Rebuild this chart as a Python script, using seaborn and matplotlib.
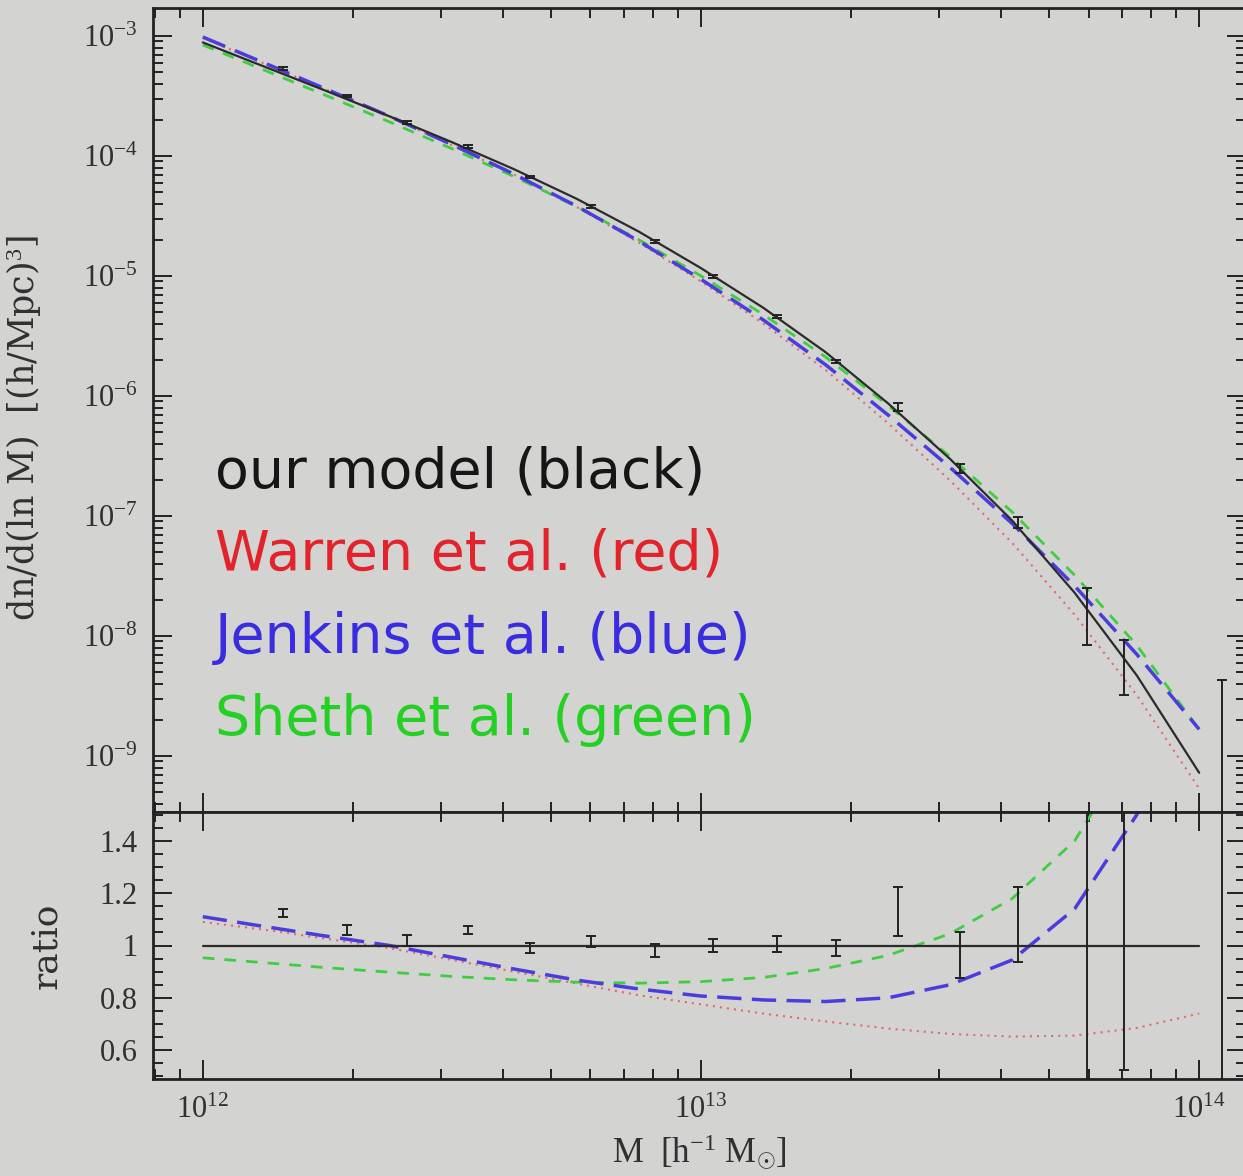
import numpy as np
import pandas as pd
import matplotlib
matplotlib.use("Agg")
import matplotlib.pyplot as plt
from matplotlib.ticker import LogLocator, NullFormatter, FuncFormatter, FixedLocator
import seaborn as sns

# mass grid for the model curves, log10(M / h^-1 Msun)
log_mass = [12.0, 12.125, 12.25, 12.375, 12.5, 12.625, 12.75, 12.875, 13.0,
            13.125, 13.25, 13.375, 13.5, 13.625, 13.75, 13.875, 14.0]
# our model (black), log10 of dn/dlnM
ours_log_n = [-3.054, -3.258, -3.462, -3.670, -3.885, -4.111, -4.356, -4.63, -4.935,
              -5.265, -5.635, -6.06, -6.525, -7.04, -7.64, -8.33, -9.14]
# other fits divided by our model (lower panel)
warren_ratio = [1.09, 1.06, 1.025, 0.99, 0.945, 0.90, 0.855, 0.81, 0.775,
                0.74, 0.71, 0.683, 0.662, 0.652, 0.656, 0.685, 0.74]
jenkins_ratio = [1.11, 1.072, 1.035, 1.0, 0.955, 0.91, 0.868, 0.834, 0.807,
                 0.792, 0.786, 0.80, 0.85, 0.945, 1.14, 1.50, 2.30]
sheth_ratio = [0.953, 0.934, 0.915, 0.898, 0.882, 0.869, 0.86, 0.856, 0.862,
               0.878, 0.912, 0.962, 1.045, 1.18, 1.40, 1.78, 2.30]

# simulation points with error bars
pts_log_mass = [12.161, 12.289, 12.41, 12.532, 12.657, 12.78, 12.907, 13.024,
                13.152, 13.272, 13.396, 13.52, 13.637, 13.775, 13.85, 14.046]
pts_n = [5.37e-4, 3.16e-4, 1.91e-4, 1.20e-4, 6.68e-5, 3.80e-5, 1.93e-5, 9.86e-6,
         4.58e-6, 1.93e-6, 8.15e-7, 2.51e-7, 8.9e-8, 1.675e-8, 6.25e-9, 2.15e-9]
pts_n_err = [0.12e-4, 0.08e-4, 0.05e-4, 0.03e-4, 0.18e-5, 0.1e-5, 0.06e-5, 0.3e-6,
             0.13e-6, 0.06e-6, 0.65e-7, 0.22e-7, 0.95e-8, 0.835e-8, 3.05e-9, 2.14e-9]
pts_ratio = [1.124, 1.06, 1.02, 1.06, 0.99, 1.015, 0.98, 1.0,
             1.005, 0.99, 1.13, 0.963, 1.08, 1.0, 1.04, 1.0]
pts_ratio_err = [0.015, 0.018, 0.022, 0.015, 0.02, 0.022, 0.025, 0.025,
                 0.03, 0.03, 0.093, 0.087, 0.142, 0.55, 0.515, 1.0]

legend_labels = ["our model (black)", "Warren et al. (red)",
                 "Jenkins et al. (blue)", "Sheth et al. (green)"]
legend_colors = ["#161616", "#e3232c", "#3a2de0", "#25d025"]

bg = "#d3d3d1"
ink = "#222222"
sns.set_theme(style="ticks", rc={"axes.facecolor": bg, "figure.facecolor": bg,
                                 "axes.edgecolor": ink, "axes.linewidth": 2.0})
plt.rcParams["font.family"] = ["Liberation Serif", "DejaVu Serif"]
plt.rcParams["mathtext.fontset"] = "custom"
plt.rcParams["mathtext.rm"] = "Liberation Serif"
plt.rcParams["mathtext.it"] = "Liberation Serif:italic"

mass = 10 ** np.array(log_mass)
ours = 10 ** np.array(ours_log_n)
curves = pd.DataFrame({
    "M": mass,
    "ours": ours,
    "warren": ours * np.array(warren_ratio),
    "jenkins": ours * np.array(jenkins_ratio),
    "sheth": ours * np.array(sheth_ratio),
})
ratios = pd.DataFrame({
    "M": mass,
    "ours": np.ones(len(mass)),
    "warren": warren_ratio,
    "jenkins": jenkins_ratio,
    "sheth": sheth_ratio,
})
pts_mass = 10 ** np.array(pts_log_mass)

styles = {
    "warren": dict(color="#e26a6a", lw=1.5, ls=(0, (1, 2.4))),
    "sheth": dict(color="#3fce3f", lw=2.0, ls=(0, (4.2, 3.6))),
    "jenkins": dict(color="#4a3ddc", lw=2.5, ls=(0, (7, 3))),
    "ours": dict(color="#2b2b2b", lw=1.6, ls="-"),
}

W, H = 1243, 1176
fig = plt.figure(figsize=(W / 100, H / 100), dpi=100)
ax_top = fig.add_axes([153 / W, 1 - 812 / H, (1246 - 153) / W, (812 - 8) / H])
ax_bot = fig.add_axes([153 / W, 1 - 1079 / H, (1246 - 153) / W, (1079 - 812) / H])

for ax in (ax_top, ax_bot):
    ax.set_xscale("log")
ax_top.set_yscale("log")

# model curves
for name, st in styles.items():
    sns.lineplot(x=curves["M"], y=curves[name], ax=ax_top, color=st["color"],
                 linewidth=st["lw"], linestyle=st["ls"])
    sns.lineplot(x=ratios["M"], y=ratios[name], ax=ax_bot, color=st["color"],
                 linewidth=st["lw"], linestyle=st["ls"])

# simulation data
ax_top.errorbar(pts_mass, pts_n, yerr=pts_n_err, fmt="none", ecolor=ink,
                elinewidth=1.4, capsize=3.5, capthick=1.4)
ax_bot.errorbar(pts_mass, pts_ratio, yerr=pts_ratio_err, fmt="none", ecolor=ink,
                elinewidth=1.4, capsize=3.5, capthick=1.4)

# axes ranges
ax_top.set_xlim(10 ** 11.9, 10 ** 14.094)
ax_bot.set_xlim(10 ** 11.9, 10 ** 14.094)
ax_top.set_ylim(10 ** -9.467, 10 ** -2.767)
ax_bot.set_ylim(0.49, 1.51)

# ticks
for ax in (ax_top, ax_bot):
    ax.xaxis.set_major_locator(FixedLocator([1e12, 1e13, 1e14]))
    ax.xaxis.set_minor_locator(LogLocator(base=10, subs=np.arange(2, 10), numticks=20))
    ax.xaxis.set_minor_formatter(NullFormatter())
    ax.tick_params(which="both", direction="in", top=True, right=True,
                   color=ink, width=1.4, labelcolor="#303030", labelsize=22)
    ax.tick_params(which="major", length=14)
    ax.tick_params(which="minor", length=7)

ax_top.yaxis.set_major_locator(FixedLocator([10.0 ** k for k in range(-9, -2)]))
ax_top.yaxis.set_minor_locator(LogLocator(base=10, subs=np.arange(2, 10), numticks=40))
ax_top.yaxis.set_minor_formatter(NullFormatter())
ax_top.yaxis.set_major_formatter(
    FuncFormatter(lambda v, p: r"$\mathregular{10^{%d}}$" % round(np.log10(v))))
ax_top.tick_params(axis="y", pad=11)
ax_top.xaxis.set_major_formatter(NullFormatter())

ratio_major = [0.6, 0.8, 1.0, 1.2, 1.4]
ratio_minor = [k / 20 for k in range(10, 31) if k % 4 != 0]
ax_bot.yaxis.set_major_locator(FixedLocator(ratio_major))
ax_bot.yaxis.set_minor_locator(FixedLocator(ratio_minor))
ax_bot.yaxis.set_minor_formatter(NullFormatter())
ax_bot.yaxis.set_major_formatter(FuncFormatter(lambda v, p: "%g" % round(v, 2)))
ax_bot.tick_params(axis="y", pad=11)
ax_bot.tick_params(axis="x", pad=12)
ax_bot.xaxis.set_major_formatter(
    FuncFormatter(lambda v, p: r"$\mathregular{10^{%d}}$" % round(np.log10(v))))

# labels
ax_top.set_xlabel("")
ax_top.set_ylabel(r"dn/d(ln M)  [(h/Mpc)$^{3}$]", fontsize=25, color="#303030",
                  family=["DejaVu Serif"])
ax_top.yaxis.set_label_coords(-0.1, 0.478)
ax_bot.set_ylabel("ratio", fontsize=26, color="#303030", family=["DejaVu Serif"])
ax_bot.yaxis.set_label_coords(-0.082, 0.5)
ax_bot.set_xlabel(r"M  [h$^{-1}$ M$_{\odot}$]", fontsize=25, color="#303030")
ax_bot.xaxis.set_label_coords(0.5, -0.2)

# model names written inside the upper panel
for label, color, yb in zip(legend_labels, legend_colors, [0.404, 0.301, 0.198, 0.096]):
    ax_top.text(0.057, yb, label, transform=ax_top.transAxes, color=color,
                fontsize=40, family="DejaVu Sans", va="baseline", ha="left")

fig.savefig("out.png", dpi=100, facecolor=bg)
